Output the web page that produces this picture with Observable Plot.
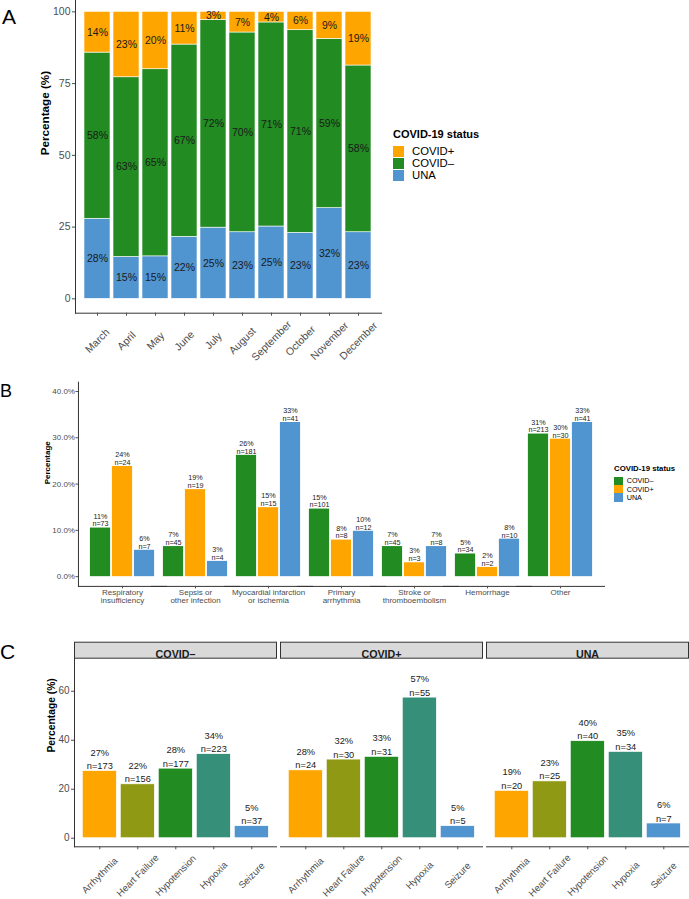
<!DOCTYPE html>
<html><head><meta charset="utf-8">
<script src="https://cdn.jsdelivr.net/npm/d3@7"></script>
<script src="https://cdn.jsdelivr.net/npm/@observablehq/plot@0.6"></script>
<style>
body{margin:0;background:#fff;font-family:"Liberation Sans",Arial,Helvetica,sans-serif;}
#root{position:relative;width:689px;height:899px;overflow:hidden;background:#fff;}
.t{position:absolute;white-space:nowrap;line-height:1;}
</style></head><body><div id="root"></div>
<script>
// ---------- Panel A data ----------
const months = ["March","April","May","June","July","August","September","October","November","December"];
const stackOrderA = ["UNA","COVID–","COVID+"];
const legendA = ["COVID+","COVID–","UNA"];
const unaA = [27.9,14.6,14.8,21.6,24.8,23.2,25.2,23.0,31.6,23.2];
const negA = [57.9,62.6,65.2,67.0,72.4,69.6,71.1,70.6,59.0,58.1];
const posA = [14.2,22.8,20.0,11.4,2.8,7.2,3.7,6.4,9.4,18.7];
const ticksA = [0,25,50,75,100];

// ---------- Panel B data ----------
const causes = ["Respiratory\ninsufficiency","Sepsis or\nother infection","Myocardial infarction\nor ischemia","Primary\narrhythmia","Stroke or\nthromboembolism","Hemorrhage","Other"];
const statusB = ["COVID–","COVID+","UNA"];
const pctNegB = [10.5,6.5,26.2,14.6,6.5,4.9,30.8];
const pctPosB = [23.8,18.8,14.9,7.9,3.0,2.0,29.7];
const pctUnaB = [5.7,3.3,33.3,9.8,6.5,8.1,33.3];
const nNegB = [73,45,181,101,45,34,213];
const nPosB = [24,19,15,8,3,2,30];
const nUnaB = [7,4,41,12,8,10,41];
const ticksB = [0,10,20,30,40];

// ---------- Panel C data ----------
const conditions = ["Arrhythmia","Heart Failure","Hypotension","Hypoxia","Seizure"];
const condColors = ["#FFA500","#8F9914","#228B22","#368F78","#5094D0"];
const statusC = ["COVID–","COVID+","UNA"];
const pctNegC = [27.4,22.0,28.4,34.3,4.9];
const pctPosC = [27.7,32.1,33.2,57.4,4.9];
const pctUnaC = [19.3,23.2,39.6,35.2,6.0];
const nNegC = [173,156,177,223,37];
const nPosC = [24,30,31,55,5];
const nUnaC = [20,25,40,34,7];
const ticksC = [0,20,40,60];

const statusColor = {"COVID+":"#FFA500","COVID–":"#228B22","UNA":"#5094D0"};

const FONT = '"Liberation Sans", Arial, Helvetica, sans-serif';
const root = document.getElementById("root");
function place(el, left, top){ el.style.position="absolute"; el.style.left=left+"px"; el.style.top=top+"px"; root.appendChild(el); return el; }
function txt(s, left, top, css){ const d=document.createElement("div"); d.className="t"; d.textContent=s; Object.assign(d.style, css||{}); return place(d,left,top); }
function box(color, left, top, w, h){ const d=document.createElement("div"); Object.assign(d.style,{width:w+"px",height:h+"px",background:color}); return place(d,left,top); }

// ---------- Panel A ----------
const rowsA = [];
months.forEach((m,i)=>{
  rowsA.push({month:m,status:"UNA",pct:unaA[i]},{month:m,status:"COVID–",pct:negA[i]},{month:m,status:"COVID+",pct:posA[i]});
});
const A_plotH = 110*2.87;
const plotA = Plot.plot({
  width:390, height:A_plotH+57, marginTop:0, marginLeft:75, marginRight:9, marginBottom:57,
  style:{fontFamily:FONT, background:"transparent", overflow:"visible", color:"#4d4d4d"},
  x:{domain:months, paddingInner:0.1, paddingOuter:0.15, label:null},
  y:{domain:[-5,105], label:null},
  color:{domain:stackOrderA, range:stackOrderA.map(s=>statusColor[s])},
  marks:[
    Plot.barY(rowsA, Plot.stackY({x:"month", y:"pct", fill:"status", stroke:"white", strokeWidth:0.6})),
    Plot.text(rowsA, Plot.stackY({x:"month", y:"pct", z:"status", text:d=>Math.round(d.pct)+"%", fontSize:10.5, fill:"#1a1a1a"})),
    Plot.frame({anchor:"left", stroke:"#333"}),
    Plot.frame({anchor:"bottom", stroke:"#333"}),
    Plot.axisY({ticks:ticksA, tickSize:3, tickPadding:2, fontSize:10.5, label:null}),
    Plot.axisX({tickSize:3, tickFormat:()=>"", label:null}),
    Plot.axisX({tickRotate:-45, tickSize:0, tickPadding:0, textAnchor:"middle", lineAnchor:"middle", dy:27.7, fontSize:10.5, label:null}),
    Plot.text(["Percentage (%)"], {frameAnchor:"left", rotate:-90, dx:-30.7, fontSize:11.7, fontWeight:"bold", fill:"#000"})
  ]
});
place(plotA, 0, -3.35);
txt("A", 2, 5.6, {fontSize:"21px", color:"#000"});
// legend A
txt("COVID-19 status", 393, 128.6, {fontSize:"11px", fontWeight:"bold", color:"#000"});
legendA.forEach((s,i)=>{
  box(statusColor[s], 393, 146+i*12, 11, 11);
  txt(s, 412, 146+i*12+5.5-0.488*11.3, {fontSize:"11.3px", color:"#000"});
});

// ---------- Panel B ----------
const rowsB = [];
causes.forEach((c,i)=>{
  rowsB.push({cause:c,status:"COVID–",pct:pctNegB[i],n:nNegB[i]},
             {cause:c,status:"COVID+",pct:pctPosB[i],n:nPosB[i]},
             {cause:c,status:"UNA",pct:pctUnaB[i],n:nUnaB[i]});
});
const B_W=610, B_ML=76, B_MR=4, B_MT=11.7, B_PH=204.2, B_MB=30;
const B_step=(B_W-B_ML-B_MR)/7.2, B_gap=0.15*B_step;
const plotB = Plot.plot({
  width:B_W, height:B_MT+B_PH+B_MB, marginTop:B_MT, marginLeft:B_ML, marginRight:B_MR, marginBottom:B_MB,
  style:{fontFamily:FONT, background:"transparent", overflow:"visible", color:"#4d4d4d"},
  fx:{domain:causes, paddingInner:0.1, paddingOuter:0.15, label:null},
  x:{domain:statusB, padding:0, axis:null, label:null},
  y:{domain:[-2.1,42], label:null},
  color:{domain:statusB, range:statusB.map(s=>statusColor[s])},
  marks:[
    Plot.barY(rowsB, {fx:"cause", x:"status", y:"pct", fill:"status", insetLeft:0.9, insetRight:0.9}),
    Plot.text(rowsB, {fx:"cause", x:"status", y:"pct", text:d=>Math.round(d.pct)+"%\nn="+d.n, lineAnchor:"bottom", dy:-1.6, fontSize:7.2, lineHeight:1.07, fill:"#1a1a1a"}),
    Plot.frame({anchor:"bottom", insetLeft:-B_gap, insetRight:-B_gap, stroke:"#333"}),
    Plot.frame({anchor:"left", facetAnchor:"left", insetLeft:-B_gap, stroke:"#333"}),
    Plot.axisY({ticks:ticksB, tickFormat:d=>d.toFixed(1)+"%", tickSize:2.5, tickPadding:1, fontSize:8, dx:-B_gap, label:null}),
    Plot.axisFx({anchor:"bottom", tickSize:2.5, tickPadding:0.8, fontSize:8, lineHeight:1, label:null}),
    Plot.text(["Percentage"], {frameAnchor:"left", facetAnchor:"left", rotate:-90, dx:-B_gap-31, fontSize:8, fontWeight:"bold", fill:"#000"})
  ]
});
place(plotB, 0, 370);
txt("B", 0, 381.7, {fontSize:"18px", color:"#000"});
txt("COVID-19 status", 614, 469-0.488*7.8, {fontSize:"7.8px", fontWeight:"bold", color:"#000"});
statusB.forEach((s,i)=>{
  box(statusColor[s], 614, 476.7+i*8.3, 8.7, 8.3);
  txt(s, 626.7, 476.7+i*8.3+4.15-0.488*7.2, {fontSize:"7.2px", color:"#000"});
});

// ---------- Panel C ----------
const rowsC = [];
statusC.forEach((s,j)=>{
  const p=[pctNegC,pctPosC,pctUnaC][j], n=[nNegC,nPosC,nUnaC][j];
  conditions.forEach((c,i)=>rowsC.push({status:s,cond:c,pct:p[i],n:n[i]}));
});
const C_W=689, C_ML=73.7, C_MR=0.7, C_MT=37.7, C_PH=188.6, C_MB=52;
const plotC = Plot.plot({
  width:C_W, height:C_MT+C_PH+C_MB, marginTop:C_MT, marginLeft:C_ML, marginRight:C_MR, marginBottom:C_MB,
  style:{fontFamily:FONT, background:"transparent", overflow:"visible", color:"#4d4d4d"},
  fx:{domain:statusC, paddingInner:0.017, paddingOuter:0, axis:null, label:null},
  x:{domain:conditions, paddingInner:0.1, paddingOuter:0.15, label:null},
  y:{domain:[-3.5,73.5], label:null},
  color:{domain:conditions, range:condColors},
  marks:[
    Plot.frame({fill:"#d9d9d9", stroke:"#333", insetTop:-16, insetBottom:C_PH}),
    Plot.text(statusC, {fx:d=>d, text:d=>d, frameAnchor:"top", dy:-8, fontSize:10.7, fontWeight:"bold", fill:"#1a1a1a"}),
    Plot.barY(rowsC, {fx:"status", x:"cond", y:"pct", fill:"cond", stroke:"white", strokeWidth:0.6}),
    Plot.text(rowsC, {fx:"status", x:"cond", y:"pct", text:d=>Math.round(d.pct)+"%\nn="+d.n, lineAnchor:"bottom", dy:-2, fontSize:9.3, lineHeight:1.46, fill:"#1a1a1a"}),
    Plot.frame({anchor:"bottom", stroke:"#333"}),
    Plot.frame({anchor:"left", facetAnchor:"left", stroke:"#333"}),
    Plot.axisY({ticks:ticksC, tickSize:3, tickPadding:2, fontSize:10, label:null}),
    Plot.axisX({tickSize:3, tickFormat:()=>"", label:null}),
    Plot.axisX({tickRotate:-45, tickSize:0, tickPadding:0, textAnchor:"middle", lineAnchor:"middle", dy:28.8, fontSize:9.5, label:null}),
    Plot.text(["Percentage (%)"], {frameAnchor:"left", facetAnchor:"left", rotate:-90, dx:-22.7, fontSize:10.3, fontWeight:"bold", fill:"#000"})
  ]
});
place(plotC, 0, 620);
txt("C", 0, 643.3-0.13*21, {fontSize:"21px", color:"#000"});
</script></body></html>
